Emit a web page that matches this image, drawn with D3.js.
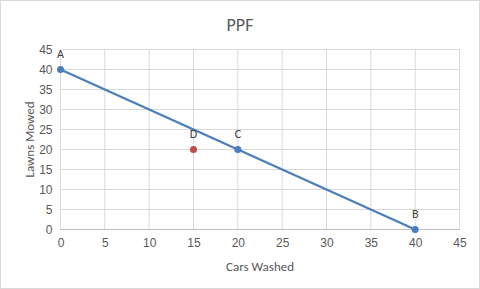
<!DOCTYPE html>
<html><head><meta charset="utf-8">
<script src="https://cdn.jsdelivr.net/npm/d3@7"></script>
<style>body{margin:0;background:#fff;}svg{display:block;font-family:Calibri,Carlito,"Open Sans",sans-serif;}</style>
</head><body>
<svg id="c" width="480" height="289"></svg>
<script>
const title = "PPF";
const xLabel = "Cars Washed";
const yLabel = "Lawns Mowed";
const xTicks = [0,5,10,15,20,25,30,35,40,45];
const yTicks = [0,5,10,15,20,25,30,35,40,45];
const ppfNames = ["A","C","B"];
const ppfX = [0,20,40];
const ppfY = [40,20,0];
const otherNames = ["D"];
const otherX = [15];
const otherY = [20];

const svg = d3.select("#c");
svg.append("rect").attr("x",0.5).attr("y",0.5).attr("width",479).attr("height",288)
  .attr("fill","#fff").attr("stroke","#d9d9d9");

const x = d3.scaleLinear().domain([0,45]).range([60.5,459.5]);
const y = d3.scaleLinear().domain([0,45]).range([229.5,49.5]);

const g = svg.append("g");
g.selectAll(".gx").data(xTicks).join("line")
  .attr("x1",d=>x(d)).attr("x2",d=>x(d)).attr("y1",y(0)).attr("y2",y(45))
  .attr("stroke","#d9d9d9").attr("stroke-width",1);
g.selectAll(".gy").data(yTicks).join("line")
  .attr("x1",x(0)).attr("x2",x(45)).attr("y1",d=>y(d)).attr("y2",d=>y(d))
  .attr("stroke","#d9d9d9").attr("stroke-width",1);
g.append("line").attr("x1",x(0)).attr("x2",x(45)).attr("y1",y(0)).attr("y2",y(0))
  .attr("stroke","#bfbfbf");

const xa = svg.append("g").attr("transform",`translate(0,${y(0)})`)
  .call(d3.axisBottom(x).tickValues(xTicks).tickSize(0).tickPadding(9));
const ya = svg.append("g").attr("transform",`translate(${x(0)},0)`)
  .call(d3.axisLeft(y).tickValues(yTicks).tickSize(0).tickPadding(8));
[xa,ya].forEach(a=>{a.select(".domain").remove();
  a.selectAll("text").attr("fill","#595959").style("font-size","12px");});

svg.append("text").attr("x",240).attr("y",31).attr("text-anchor","middle")
  .attr("fill","#595959").style("font-size","18px").text(title);
svg.append("text").attr("x",260).attr("y",271).attr("text-anchor","middle")
  .attr("fill","#595959").style("font-size","13px").text(xLabel);
svg.append("text").attr("transform",`translate(34,${y(22.5)}) rotate(-90)`).attr("text-anchor","middle")
  .attr("fill","#595959").style("font-size","13px").text(yLabel);

const ppf = ppfX.map((v,i)=>({x:v,y:ppfY[i],n:ppfNames[i]}));
const oth = otherX.map((v,i)=>({x:v,y:otherY[i],n:otherNames[i]}));
svg.append("path").datum(ppf)
  .attr("d",d3.line().x(d=>x(d.x)).y(d=>y(d.y)))
  .attr("fill","none").attr("stroke","#4a7ebb").attr("stroke-width",2.25);
svg.selectAll(".pp").data(ppf).join("circle")
  .attr("cx",d=>x(d.x)).attr("cy",d=>y(d.y)).attr("r",3.5).attr("fill","#4a7ebb");
svg.selectAll(".po").data(oth).join("circle")
  .attr("cx",d=>x(d.x)).attr("cy",d=>y(d.y)).attr("r",3.5).attr("fill","#be4b48");
svg.selectAll(".lb").data(ppf.concat(oth)).join("text")
  .attr("x",d=>x(d.x)).attr("y",d=>y(d.y)-12).attr("text-anchor","middle")
  .attr("fill","#404040").style("font-size","12px").text(d=>d.n);
</script>
</body></html>
